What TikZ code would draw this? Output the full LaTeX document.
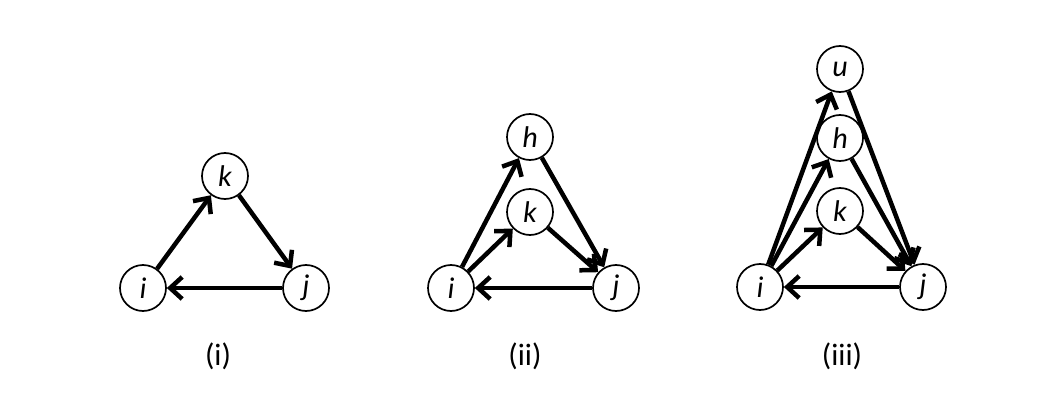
\documentclass[tikz,border=0pt]{standalone}
\usepackage{fontspec}
\setmainfont{Carlito}
\usetikzlibrary{arrows.meta}
\begin{document}
\begin{tikzpicture}[x=1pt,y=-1pt,
  vertex/.style={circle,draw,line width=1.7pt,minimum size=46pt,inner sep=0pt,
    font=\fontsize{30}{33}\selectfont\itshape},
  edge/.style={line width=4.5pt,-{Straight Barb[length=12pt,width=22pt,line width=4.5pt]}},
  caption/.style={font=\fontsize{31}{35}\selectfont}]
\useasboundingbox (0,0) rectangle (1050,404);
% (i)
\node[vertex] (i1) at (143,288) {i};
\node[vertex] (j1) at (306,288) {j};
\node[vertex] (k1) at (225,176) {k};
\draw[edge] (i1) -- (k1);
\draw[edge] (k1) -- (j1);
\draw[edge] (j1) -- (i1);
\node[caption] (c1) at (218,356) {(i)};
% (ii)
\node[vertex] (i2) at (451,288) {i};
\node[vertex] (j2) at (616,288) {j};
\node[vertex] (k2) at (530,212) {k};
\node[vertex] (h2) at (530,137) {h};
\draw[edge] (i2) -- (k2);
\draw[edge] (i2) -- (h2);
\draw[edge] (k2) -- (j2);
\draw[edge] (h2) -- (j2);
\draw[edge] (j2) -- (i2);
\node[caption] (c2) at (525,356) {(ii)};
% (iii)
\node[vertex] (i3) at (760,287) {i};
\node[vertex] (j3) at (923,287) {j};
\node[vertex] (k3) at (840,211) {k};
\node[vertex] (h3) at (840,138) {h};
\node[vertex] (u3) at (840,69) {u};
\draw[edge] (i3) -- (k3);
\draw[edge] (i3) -- (h3);
\draw[edge] (i3) -- (u3);
\draw[edge] (k3) -- (j3);
\draw[edge] (h3) -- (j3);
\draw[edge] (u3) -- (j3);
\draw[edge] (j3) -- (i3);
\node[caption] (c3) at (842,356) {(iii)};
\end{tikzpicture}
\end{document}
